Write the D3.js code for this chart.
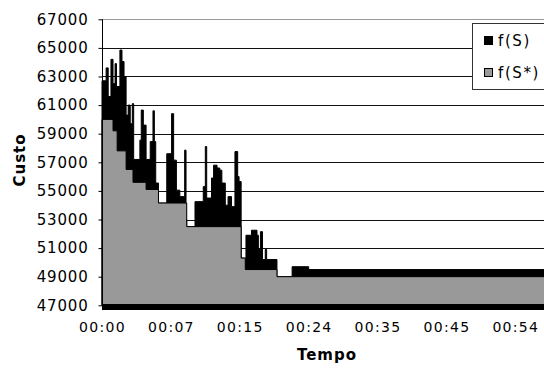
<!doctype html>
<html>
<head>
    <meta charset="UTF-8">
    <script src="https://d3js.org/d3.v7.min.js"></script>
    <title></title>
</head>
<body style="margin:0;background:#fff">

<style>
    text { font-family: "DejaVu Sans", Verdana, sans-serif; fill: #000; }
    .axis path { display: none; }
</style>

<div id="graph"></div>

<script>
    // tick labels / values
    var timeLabels = ["00:00", "00:07", "00:15", "00:24", "00:35", "00:45", "00:54"];
    var timeTicks = [0, 100, 200, 300, 400, 500, 600];
    var custoTicks = [47000, 49000, 51000, 53000, 55000, 57000, 59000, 61000, 63000, 65000, 67000];

    // f(S) - current solution cost (step breakpoints)
    var fSx = [0, 6, 9, 13, 16, 19, 21, 26, 29, 32, 35, 38, 41, 44, 46, 55, 57, 60, 64, 70,
               74, 76, 78, 82, 94, 101, 104, 108, 113, 120, 122, 123, 135, 147, 150, 152, 159, 162, 167, 171,
               174, 179, 183, 188, 193, 197, 199, 202, 209, 217, 225, 227, 230, 233, 237, 239, 254, 276, 300, 660];
    var fSv = [62700, 63600, 61600, 64200, 62500, 63900, 62300, 64850, 64050, 63000, 60300, 61000, 59700, 61100, 57200, 58550, 60650, 59600, 57200, 58450,
               60600, 58450, 55550, 54150, 57600, 60400, 57150, 55050, 54600, 57850, 53000, 52500, 54250, 55300, 58100, 54500, 55900, 56800, 56600, 56450,
               55550, 54000, 54600, 53900, 57750, 56000, 55650, 50300, 51900, 52250, 51900, 50900, 52150, 50200, 50900, 50200, 49000, 49700, 49500, 49500];

    // f(S*) - best solution cost
    var fStarX = [0, 16, 22, 35, 45, 64, 82, 123, 202, 208, 254, 660];
    var fStarV = [60000, 59200, 57800, 56500, 55600, 55100, 54150, 52500, 50300, 49500, 49000, 49000];

    var w = 544, h = 368;
    var vis = d3.select("#graph").append("svg")
            .attr("width", w)
            .attr("height", h);

    var x = d3.scaleLinear().domain([0, 600]).range([102, 515.3]);
    var y = d3.scaleLinear().domain([47000, 67000]).range([305.3, 19.3]);

    var sData = fSx.map(function(d, i) { return {x: d, v: fSv[i]}; });
    var starData = fStarX.map(function(d, i) { return {x: d, v: fStarV[i]}; });

    // gridlines
    vis.selectAll(".grid")
            .data(custoTicks.slice(1))
            .enter()
            .append("line")
            .attr("x1", x(0))
            .attr("x2", w)
            .attr("y1", function(d) { return Math.round(y(d)) + 0.5; })
            .attr("y2", function(d) { return Math.round(y(d)) + 0.5; })
            .style("stroke", function(d) { return d == 67000 ? "#999" : "#111"; })
            .style("stroke-width", 1);

    var area = d3.area()
            .curve(d3.curveStepAfter)
            .x(function(d) { return x(d.x); })
            .y0(y(47000))
            .y1(function(d) { return y(d.v); });

    vis.append("path")
            .datum(sData)
            .attr("d", area)
            .attr("fill", "#000")
            .attr("stroke", "#000")
            .attr("stroke-width", 1);

    vis.append("path")
            .datum(starData)
            .attr("d", area)
            .attr("fill", "#999")
            .attr("stroke", "#000")
            .attr("stroke-width", 1);

    // heavy bottom band
    vis.append("rect")
            .attr("x", x(0))
            .attr("y", y(47000) - 1.3)
            .attr("width", w - x(0))
            .attr("height", 6)
            .attr("fill", "#000");

    // y axis
    var yAxis = vis.append("g")
            .attr("class", "axis")
            .attr("transform", "translate(" + (x(0) + 0.5) + ",0)")
            .call(d3.axisLeft(y).tickValues(custoTicks).tickSize(4).tickPadding(10).tickFormat(d3.format("d")));
    yAxis.selectAll("line").style("stroke", "#000");
    yAxis.selectAll("text")
            .style("font-size", "15px")
            .style("letter-spacing", "0.8px")
            .attr("fill", "#111");
    vis.append("line")
            .attr("x1", x(0) + 0.5).attr("x2", x(0) + 0.5)
            .attr("y1", y(67000)).attr("y2", y(47000))
            .style("stroke", "#000");

    // x axis
    var xAxis = vis.append("g")
            .attr("class", "axis")
            .attr("transform", "translate(0," + (y(47000) + 4) + ")")
            .call(d3.axisBottom(x).tickValues(timeTicks).tickSize(0).tickPadding(13)
                    .tickFormat(function(d, i) { return timeLabels[i]; }));
    xAxis.selectAll("text")
            .style("font-size", "14px")
            .style("letter-spacing", "1.3px")
            .attr("fill", "#111");

    // axis titles
    vis.append("text")
            .attr("x", 327)
            .attr("y", 360)
            .attr("text-anchor", "middle")
            .style("font-size", "15px")
            .style("font-weight", "bold")
            .style("letter-spacing", "1px")
            .text("Tempo");

    vis.append("text")
            .attr("transform", "translate(25,160) rotate(-90)")
            .attr("text-anchor", "middle")
            .style("font-size", "15px")
            .style("font-weight", "bold")
            .style("letter-spacing", "1px")
            .text("Custo");

    // legend
    var legend = vis.append("g");
    legend.append("rect")
            .attr("x", 472.5).attr("y", 23.5)
            .attr("width", 90).attr("height", 66)
            .attr("fill", "#fff")
            .attr("stroke", "#333");

    var legendItems = [{name: "f(S)", color: "#000", y: 40.5}, {name: "f(S*)", color: "#999", y: 72.5}];
    var items = legend.selectAll(".item")
            .data(legendItems)
            .enter()
            .append("g");
    items.append("rect")
            .attr("x", 484.5)
            .attr("y", function(d) { return d.y - 4; })
            .attr("width", 8).attr("height", 8)
            .attr("fill", function(d) { return d.color; })
            .attr("stroke", "#000");
    items.append("text")
            .attr("x", 498)
            .attr("y", function(d) { return d.y + 5; })
            .style("font-size", "15px")
            .style("letter-spacing", "1.6px")
            .text(function(d) { return d.name; });
</script>

</body>
</html>
